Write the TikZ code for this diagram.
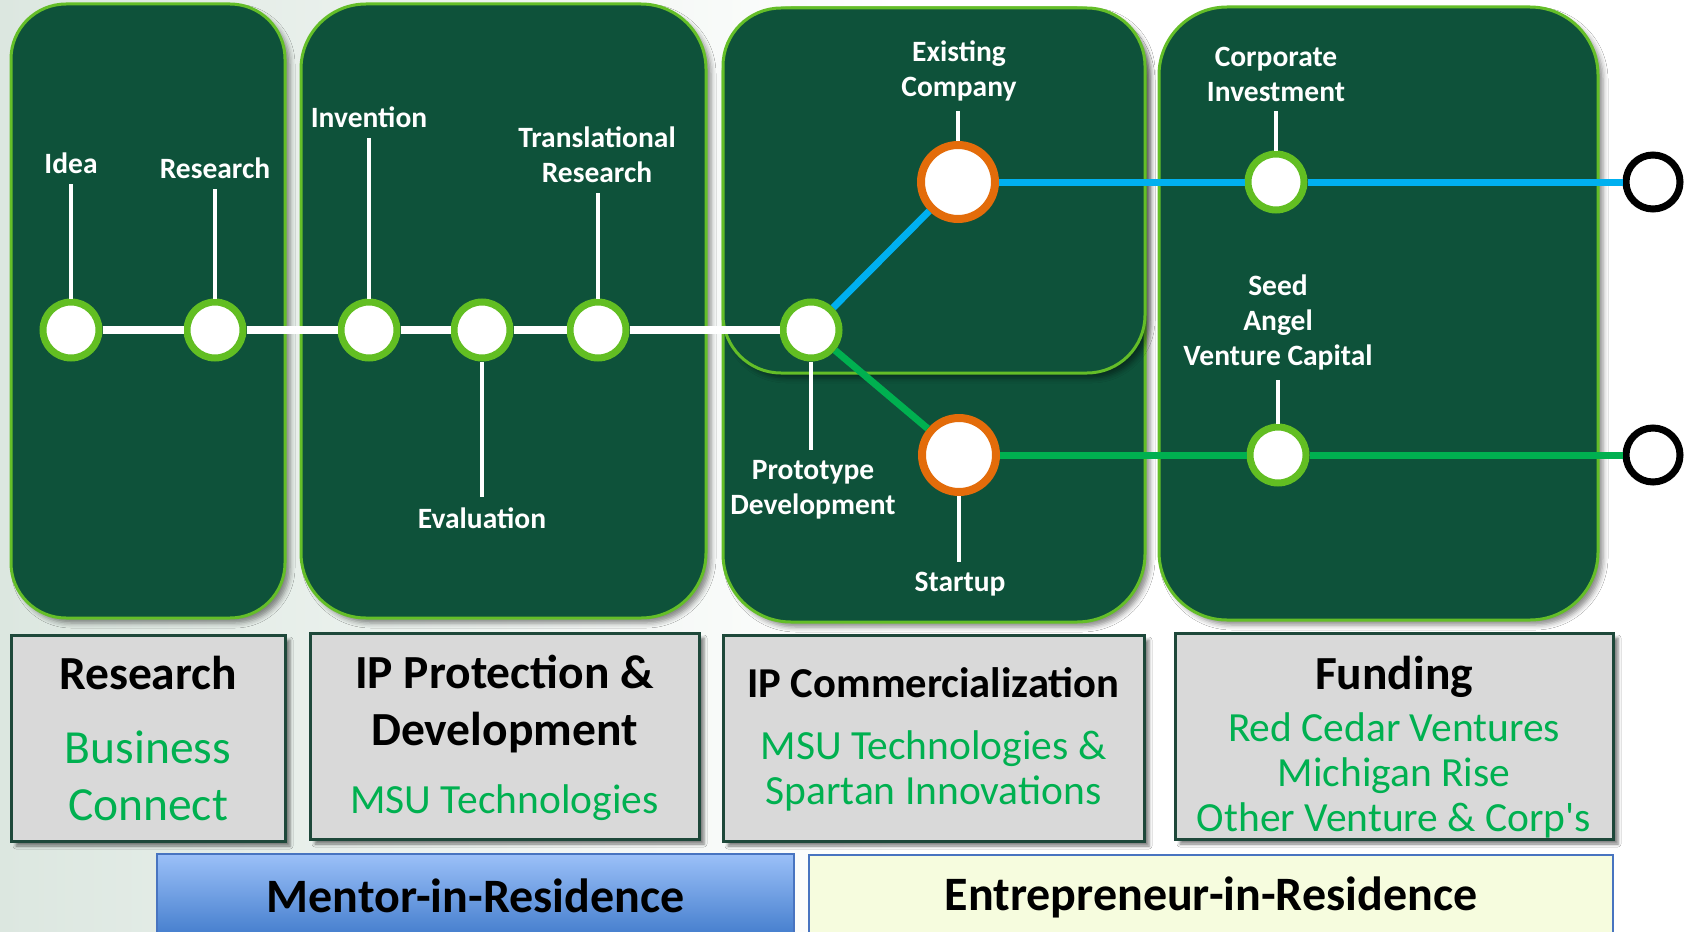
\documentclass[tikz,border=0pt]{standalone}
\usepackage{fontspec}
\setmainfont{Carlito}[Ligatures=TeXOff]
\usetikzlibrary{shadows.blur,calc}
\definecolor{dkgreen}{RGB}{14,82,58}
\definecolor{ltgreen}{RGB}{100,190,40}
\definecolor{ringgreen}{RGB}{98,190,34}
\definecolor{orange1}{RGB}{227,108,10}
\definecolor{lineblue}{RGB}{0,176,240}
\definecolor{linegreen}{RGB}{0,176,80}
\definecolor{boxgray}{RGB}{217,217,217}
\definecolor{boxborder}{RGB}{30,72,58}
\definecolor{txtgreen}{RGB}{0,176,80}
\definecolor{bluetop}{RGB}{155,192,248}
\definecolor{bluebot}{RGB}{66,124,204}
\definecolor{blueedge}{RGB}{72,116,192}
\definecolor{paleyellow}{RGB}{246,252,222}
\definecolor{bgwash}{RGB}{220,231,224}
\tikzset{
  phase/.style={fill=dkgreen, draw=ltgreen, line width=3pt,
    blur shadow={shadow xshift=5pt, shadow yshift=-5pt, shadow blur radius=5pt, shadow opacity=45}},
  gstation/.style={circle, fill=white, draw=ringgreen, line width=7pt, minimum size=56pt, inner sep=0pt},
  ostation/.style={circle, fill=white, draw=orange1, line width=8pt, minimum size=74pt, inner sep=0pt},
  endstation/.style={circle, fill=white, draw=black, line width=7pt, minimum size=54pt, inner sep=0pt},
  lbl/.style={text=white, font=\bfseries\fontsize{29.5}{35}\selectfont, align=center, inner sep=10pt},
  tick/.style={draw=white, line width=3.5pt},
  mainline/.style={draw=white, line width=8pt},
  blueline/.style={draw=lineblue, line width=7pt},
  greenline/.style={draw=linegreen, line width=7pt},
  graybox/.style={draw=boxborder, line width=3pt, fill=boxgray, inner sep=0pt,
    blur shadow={shadow xshift=5pt, shadow yshift=-5pt, shadow blur radius=3pt, shadow opacity=50}},
  boxtitle/.style={font=\bfseries\fontsize{47.5}{57}\selectfont, align=center, text=black},
  boxsub/.style={font=\fontsize{41.5}{45}\selectfont, align=center, text=txtgreen},
  bartext/.style={font=\bfseries\fontsize{48}{55}\selectfont, text=black},
}
\begin{document}
\begin{tikzpicture}[x=1pt, y=-1pt]
\useasboundingbox (0,0) rectangle (1685,931);
\fill[white] (0,0) rectangle (1685,931);
\shade[left color=bgwash, right color=white] (0,0) rectangle (900,931);
% phase panels
\draw[phase, rounded corners=55pt] (11,4) rectangle (285,618);
\draw[phase, rounded corners=65pt] (301,4) rectangle (706,618);
\draw[phase, rounded corners=68pt] (723,8) rectangle (1145,622);
\draw[phase, rounded corners=58pt] (723,8) rectangle (1145,373);
\draw[phase, rounded corners=68pt] (1159,7) rectangle (1598,620);

% stations
\node[gstation] (cIdea)  at (71,330) {};
\node[gstation] (cRes)   at (215,330) {};
\node[gstation] (cInv)   at (369,330) {};
\node[gstation] (cEval)  at (482,330) {};
\node[gstation] (cTrans) at (598,330) {};
\node[gstation] (cProto) at (811,330) {};
\node[ostation] (cExist) at (958,182) {};
\node[ostation] (cStart) at (959,455) {};
\node[gstation] (cCorp)  at (1276,182) {};
\node[gstation] (cSeed)  at (1278,455) {};
\node[endstation] (cEnd1) at (1653,182) {};
\node[endstation] (cEnd2) at (1653,455) {};

% labels
\node[lbl] (lIdea)  at (71,163) {Idea};
\node[lbl] (lRes)   at (215,168) {Research};
\node[lbl] (lInv)   at (369,117) {Invention};
\node[lbl] (lTrans) at (597,155) {Translational\\Research};
\node[lbl] (lEval)  at (482,518) {Evaluation};
\node[lbl] (lProto) at (813,490) {Prototype\\Development};
\node[lbl] (lExist) at (959,71) {Existing\\Company};
\node[lbl] (lStart) at (960,584) {Startup};
\node[lbl] (lCorp)  at (1276,74) {Corporate\\Investment};
\node[lbl] (lSeed)  at (1278,322) {Seed\\Angel\\Venture Capital};

% lines (clipped at node borders)
\draw[mainline] (cIdea) -- (cRes);
\draw[mainline] (cRes) -- (cInv);
\draw[mainline] (cInv) -- (cEval);
\draw[mainline] (cEval) -- (cTrans);
\draw[mainline] (cTrans) -- (cProto);
\draw[blueline] (cProto) -- (cExist);
\draw[blueline] (cExist) -- (cCorp);
\draw[blueline] (cCorp) -- (cEnd1);
\draw[greenline] (cProto) -- (cStart);
\draw[greenline] (cStart) -- (cSeed);
\draw[greenline] (cSeed) -- (cEnd2);
\draw[tick] (cIdea) -- (cIdea |- lIdea.south);
\draw[tick] (cRes) -- (cRes |- lRes.south);
\draw[tick] (cInv) -- (cInv |- lInv.south);
\draw[tick] (cTrans) -- (cTrans |- lTrans.south);
\draw[tick] (cEval) -- (cEval |- lEval.north);
\draw[tick] (cProto) -- (cProto |- lProto.north);
\draw[tick] (cExist) -- (cExist |- lExist.south);
\draw[tick] (cStart) -- (cStart |- lStart.north);
\draw[tick] (cCorp) -- (cCorp |- lCorp.south);
\draw[tick] (cSeed) -- (cSeed |- lSeed.south);

% gray boxes
\node[graybox, minimum width=274pt, minimum height=206pt] (g1) at (148,738) {};
\node[graybox, minimum width=389pt, minimum height=206pt] (g2) at (504.5,736) {};
\node[graybox, minimum width=421pt, minimum height=206pt] (g3) at (933.5,738) {};
\node[graybox, minimum width=438pt, minimum height=206pt] (g4) at (1394,736) {};

\node[boxtitle] (t1) at (148,673) {Research};
\node[boxsub, font=\fontsize{47.5}{57}\selectfont] (s1) at (148,776) {Business\\Connect};
\node[boxtitle] (t2) at (504.5,704) {IP Protection \&\\Development};
\node[boxsub] (s2) at (504.5,803) {MSU Technologies};
\node[boxtitle, font=\bfseries\fontsize{42.6}{50}\selectfont] (t3) at (933.5,683) {IP Commercialization};
\node[boxsub] (s3) at (933.5,771) {MSU Technologies \&\\Spartan Innovations};
\node[boxtitle] (t4) at (1394,677) {Funding};
\node[boxsub] (s4) at (1394,775) {Red Cedar Ventures\\Michigan Rise\\Other Venture \& Corp's};

% bottom bars
\node[draw=blueedge, line width=2pt, top color=bluetop, bottom color=bluebot,
      minimum width=637pt, minimum height=84pt, inner sep=0pt, bartext] (mir) at (475.5,896) {Mentor-in-Residence};
\node[draw=blueedge, line width=2pt, fill=paleyellow,
      minimum width=804pt, minimum height=84pt, inner sep=0pt, bartext] (eir) at (1211,897) {Entrepreneur-in-Residence};
\end{tikzpicture}
\end{document}
